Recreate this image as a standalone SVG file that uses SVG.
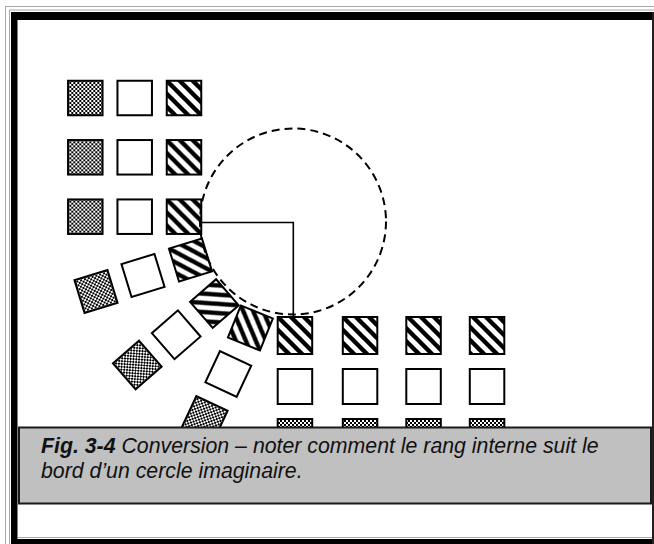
<svg xmlns="http://www.w3.org/2000/svg" width="654" height="544" viewBox="0 0 654 544">
  <defs>
    <pattern id="chk" width="4" height="4" patternUnits="userSpaceOnUse">
      <rect width="4" height="4" fill="#fff"/>
      <rect width="2" height="2" fill="#000"/>
      <rect x="2" y="2" width="2" height="2" fill="#000"/>
    </pattern>
    <pattern id="hat" width="13" height="13" patternUnits="userSpaceOnUse">
      <rect width="13" height="13" fill="#fff"/>
      <path d="M-3,-3 L16,16 M-3,10 L3,16 M10,-3 L16,3" stroke="#000" stroke-width="4.4"/>
    </pattern>
    <rect id="sq" x="-17.25" y="-17.25" width="34.5" height="34.5"/>
  </defs>
  <style>
    .c { fill: url(#chk); stroke: #000; stroke-width: 2; }
    .e { fill: #fff; stroke: #000; stroke-width: 2; }
    .h { fill: url(#hat); stroke: #000; stroke-width: 2; }
    .conn { fill: none; stroke: #000; stroke-width: 1.6; }
    .dash { fill: none; stroke: #000; stroke-width: 2; stroke-dasharray: 8 5; }
    .cap { font-family: "Liberation Sans", Arial, sans-serif; font-size: 21.3px; font-style: italic; fill: #111; }
  </style>

  <!-- frame -->
  <g id="frame">
    <rect x="0" y="0" width="654" height="544" fill="#fff"/>
    <rect x="5.5" y="6.5" width="660" height="540" fill="none" stroke="#a8a8a8" stroke-width="1"/>
    <rect x="9.5" y="10" width="660" height="540" fill="none" stroke="#a8a8a8" stroke-width="1"/>
    <rect x="11" y="12" width="642" height="8" fill="#000"/>
    <rect x="11" y="12" width="6.5" height="532" fill="#000"/>
    <rect x="11" y="539" width="643" height="5" fill="#000"/>
    <rect x="652" y="12" width="2" height="532" fill="#222"/>
    <line x1="18" y1="537.5" x2="652" y2="537.5" stroke="#a8a8a8" stroke-width="1"/>
  </g>

  <!-- upper grid -->
  <g id="r1c1"><use href="#sq" class="c" transform="translate(85.3,98)"/></g>
  <g id="r1c2"><use href="#sq" class="e" transform="translate(134.7,98)"/></g>
  <g id="r1c3"><use href="#sq" class="h" transform="translate(184,98)"/></g>
  <g id="r2c1"><use href="#sq" class="c" transform="translate(85.3,157.3)"/></g>
  <g id="r2c2"><use href="#sq" class="e" transform="translate(134.7,157.3)"/></g>
  <g id="r2c3"><use href="#sq" class="h" transform="translate(184,157.3)"/></g>
  <g id="r3c1"><use href="#sq" class="c" transform="translate(85.3,216.7)"/></g>
  <g id="r3c2"><use href="#sq" class="e" transform="translate(134.7,216.7)"/></g>
  <g id="r3c3"><use href="#sq" class="h" transform="translate(184,216.7)"/></g>

  <!-- rotated rows -->
  <g id="a1"><use href="#sq" class="c" transform="translate(96,291.5) rotate(-17)"/></g>
  <g id="a2"><use href="#sq" class="e" transform="translate(143,275.5) rotate(-17)"/></g>
  <g id="a3"><use href="#sq" class="h" transform="translate(190.5,260) rotate(-17)"/></g>
  <g id="b1"><use href="#sq" class="c" transform="translate(137.3,365) rotate(-41)"/></g>
  <g id="b2"><use href="#sq" class="e" transform="translate(176.2,334.8) rotate(-41)"/></g>
  <g id="b3"><use href="#sq" class="h" transform="translate(214.4,303.6) rotate(-41)"/></g>
  <g id="c1"><use href="#sq" class="c" transform="translate(204.7,419) rotate(25)"/></g>
  <g id="c2"><use href="#sq" class="e" transform="translate(228.3,374) rotate(25)"/></g>
  <g id="c3"><use href="#sq" class="h" transform="translate(250.4,328) rotate(22)"/></g>

  <!-- lower grid -->
  <g id="d1h"><rect class="h" x="277.7" y="317" width="34.5" height="37"/></g>
  <g id="d2h"><rect class="h" x="342.8" y="317" width="34.5" height="37"/></g>
  <g id="d3h"><rect class="h" x="406.3" y="317" width="34.5" height="37"/></g>
  <g id="d4h"><rect class="h" x="469.8" y="317" width="34.5" height="37"/></g>
  <g id="d1e"><rect class="e" x="277.7" y="369" width="34.5" height="35"/></g>
  <g id="d2e"><rect class="e" x="342.8" y="369" width="34.5" height="35"/></g>
  <g id="d3e"><rect class="e" x="406.3" y="369" width="34.5" height="35"/></g>
  <g id="d4e"><rect class="e" x="469.8" y="369" width="34.5" height="35"/></g>
  <g id="d1c"><rect class="c" x="277.7" y="419" width="34.5" height="34.5"/></g>
  <g id="d2c"><rect class="c" x="342.8" y="419" width="34.5" height="34.5"/></g>
  <g id="d3c"><rect class="c" x="406.3" y="419" width="34.5" height="34.5"/></g>
  <g id="d4c"><rect class="c" x="469.8" y="419" width="34.5" height="34.5"/></g>

  <!-- imaginary circle and radii -->
  <g id="connectors">
    <circle class="dash" cx="293" cy="221.5" r="93"/>
    <polyline class="conn" points="202,222.5 293.3,222.5 293.3,316"/>
  </g>

  <!-- caption -->
  <g id="caption">
    <rect x="19" y="427.5" width="632" height="76" fill="#c0c0c0" stroke="#1a1a1a" stroke-width="2"/>
    <text class="cap" x="41" y="453"><tspan font-weight="bold">Fig. 3-4</tspan> Conversion – noter comment le rang interne suit le</text>
    <text class="cap" x="41" y="478">bord d’un cercle imaginaire.</text>
  </g>
</svg>
